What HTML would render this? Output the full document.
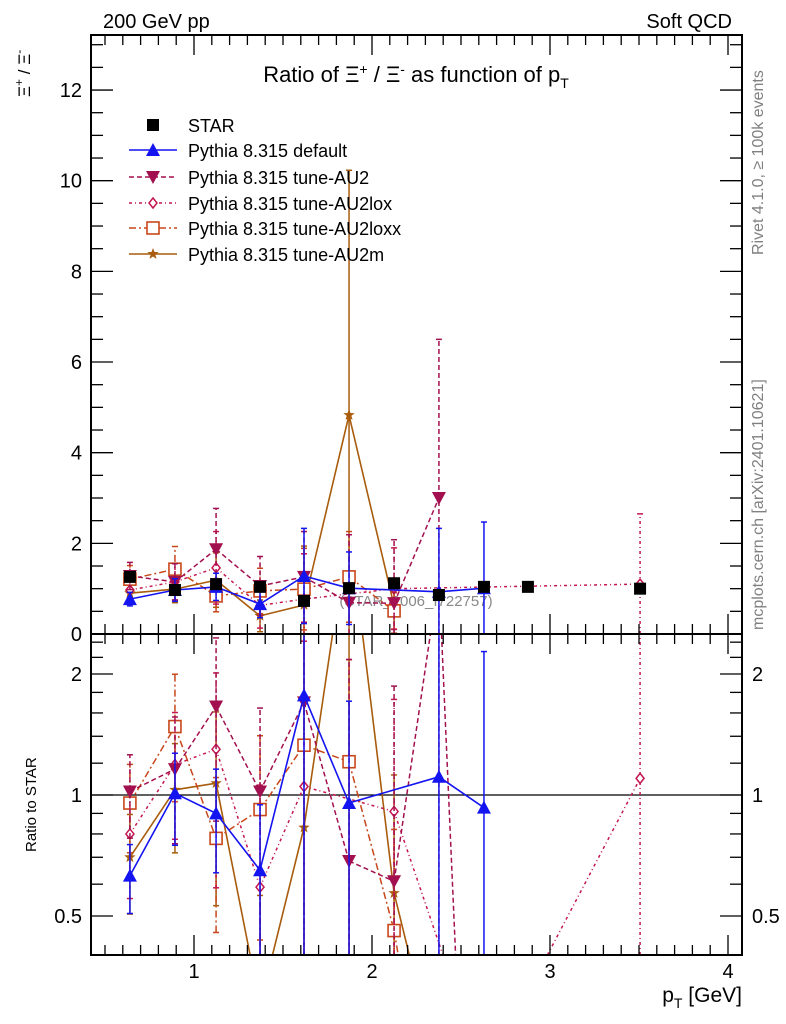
<!DOCTYPE html>
<html><head><meta charset="utf-8"><style>
html,body{margin:0;padding:0;background:#fff;overflow:hidden;width:786px;height:1024px;}
svg{display:block;font-family:"Liberation Sans",sans-serif;}
</style></head><body>
<svg id="c" width="786" height="1024" viewBox="0 0 786 1024" xmlns="http://www.w3.org/2000/svg">
<text x="103" y="28" font-size="20">200 GeV pp</text>
<text x="732" y="28" font-size="20" text-anchor="end">Soft QCD</text>
<text x="416" y="82" font-size="22" text-anchor="middle">Ratio of Ξ<tspan dy="-8" font-size="14">+</tspan><tspan dy="8"> / Ξ</tspan><tspan dy="-8" font-size="14">-</tspan><tspan dy="8"> as function of p</tspan><tspan dy="6" font-size="14">T</tspan></text>
<text transform="translate(30,97) rotate(-90)" font-size="17">Ξ<tspan dy="-7" font-size="12">+</tspan><tspan dy="7"> / Ξ</tspan><tspan dy="-7" font-size="12">-</tspan></text>
<text transform="translate(36,852) rotate(-90)" font-size="15">Ratio to STAR</text>
<text x="742" y="1002" font-size="21" text-anchor="end">p<tspan dy="6" font-size="14">T</tspan><tspan dy="-6"> [GeV]</tspan></text>
<text transform="translate(763,255) rotate(-90)" font-size="16" fill="#808080">Rivet 4.1.0, ≥ 100k events</text>
<text transform="translate(763,630) rotate(-90)" font-size="16" fill="#808080">mcplots.cern.ch [arXiv:2401.10621]</text>
<text x="416" y="606" font-size="15" fill="#888" text-anchor="middle">(STAR_2006_I722757)</text>
<g id="marks"></g>
<g id="axes"></g>
<g id="legend"></g>
</svg>
<script>
const xVals=[0.64,0.893,1.124,1.371,1.618,1.871,2.124,2.376,2.629,2.876,3.506];
const starVals=[1.26,0.97,1.10,1.04,0.73,1.01,1.12,0.86,1.04,1.04,1.00];
const starErr=[0.08,0.06,0.06,0.06,0.05,0.06,0.06,0.05,0.06,0.05,0.05];
const defVals=[0.77,0.97,1.04,0.66,1.28,1.01,null,0.93,1.01,null,null];
const defErr=[0.15,0.25,0.3,0.3,1.05,0.8,null,1.4,1.46,null,null];
const au2Vals=[1.28,1.15,1.87,1.06,1.26,0.69,0.68,3.0,null,null,null];
const au2Err=[0.3,0.4,0.9,0.65,1.0,1.5,1.4,3.5,null,null,null];
const loxVals=[0.97,1.15,1.46,0.63,0.77,null,1.0,null,null,null,1.1];
const loxErr=[0.3,0.4,0.8,0.5,1.0,null,0.9,null,null,null,1.55];
const loxxVals=[1.21,1.43,0.84,0.95,0.99,1.26,0.51,null,null,null,null];
const loxxErr=[0.3,0.5,0.35,0.5,0.9,1.0,0.4,null,null,null,null];
const au2mVals=[0.9,0.99,1.19,0.4,0.64,4.83,0.62,null,null,null,null];
const au2mErr=[0.25,0.3,0.6,0.35,1.3,5.4,0.6,null,null,null,null];
const defRatio=[0.63,1.01,0.90,0.65,1.77,0.955,null,1.11,0.93,null,null];
const au2Ratio=[1.02,1.16,1.66,1.02,1.70,0.685,0.61,3.5,0.01,null,null];
const loxRatio=[0.80,1.19,1.30,0.59,1.05,null,0.91,null,0.2,null,1.1];
const loxxRatio=[0.955,1.48,0.78,0.92,1.33,1.21,0.46,0.1,null,null,null];
const au2mRatio=[0.70,1.03,1.07,0.3,0.83,4.75,0.57,0.2,null,null,null];
const yTicksTop=[0,2,4,6,8,10,12];
const xTicks=[1,2,3,4];
const rTicks=[0.5,1,2];
const rMinor=[0.4,0.6,0.7,0.8,0.9,1.2,1.4,1.6,1.8,2.2,2.4];

const L=91,R=742,T=35,M=634,B=955;
const X=v=>194+(v-1)*178;
const Y=v=>634-v*45.33;
const RY=v=>795-Math.log2(v)*121;
const NS='http://www.w3.org/2000/svg';
function mk(tag,at,par){const e=document.createElementNS(NS,tag);for(const k in at)e.setAttribute(k,at[k]);par.appendChild(e);return e;}
const marks=document.getElementById('marks'),axes=document.getElementById('axes'),leg=document.getElementById('legend');

// clip a segment to the y band [y0,y1]; returns null if fully outside
function clipSeg(ax,ay,bx,by,y0,y1){
  let t0=0,t1=1;const dy=by-ay;
  if(dy===0){if(ay<y0||ay>y1)return null;}
  else{let ta=(y0-ay)/dy,tb=(y1-ay)/dy;if(ta>tb)[ta,tb]=[tb,ta];t0=Math.max(t0,ta);t1=Math.min(t1,tb);if(t0>t1)return null;}
  return [ax+(bx-ax)*t0,ay+dy*t0,ax+(bx-ax)*t1,ay+dy*t1];
}
function marker(type,x,y,col,g,s){
  let e;
  if(type==='sq')e=mk('rect',{x:x-6,y:y-6,width:12,height:12,fill:'#000'},g);
  else if(type==='tri')e=mk('polygon',{points:`${x},${y-7} ${x-7},${y+6} ${x+7},${y+6}`,fill:col},g);
  else if(type==='dtri')e=mk('polygon',{points:`${x},${y+7} ${x-7},${y-6} ${x+7},${y-6}`,fill:col},g);
  else if(type==='dia')e=mk('polygon',{points:`${x},${y-5} ${x-4},${y} ${x},${y+5} ${x+4},${y}`,fill:'#fff',stroke:col,'stroke-width':1.5},g);
  else if(type==='osq')e=mk('rect',{x:x-6,y:y-6,width:12,height:12,fill:'#fff',stroke:col,'stroke-width':1.6},g);
  else {let p=[];for(let i=0;i<10;i++){const r=i%2?2.5:6,a=-Math.PI/2+i*Math.PI/5;p.push((x+r*Math.cos(a)).toFixed(1)+','+(y+r*Math.sin(a)).toFixed(1));}e=mk('polygon',{points:p.join(' '),fill:col},g);}
  
  
}
function series(name,vals,errs,ratio,col,dash,type,w){
  const gt=mk('g',{},marks);
  const gb=mk('g',{},marks);
  const draw=(g,arr,fy,errf,y0,y1)=>{
    let prev=null,d='';
    arr.forEach((v,i)=>{if(v==null)return;const p=[X(xVals[i]),fy(v)];
      if(prev){const s=clipSeg(prev[0],prev[1],p[0],p[1],y0,y1);if(s)d+=`M${s[0].toFixed(1)},${s[1].toFixed(1)}L${s[2].toFixed(1)},${s[3].toFixed(1)}`;}
      prev=p;});
    if(type!=='sq'&&d){const pl=mk('path',{d,fill:'none',stroke:col,'stroke-width':w,'stroke-dasharray':dash},g);
      }
    arr.forEach((v,i)=>{if(v==null)return;const e=errf(i);const x=X(xVals[i]);
      if(e){const lo=Math.max(v-e[0],1e-4),hi=v+e[1];
        const ya=Math.min(Math.max(fy(lo),y0),y1),yb=Math.min(Math.max(fy(hi),y0),y1);
        if(ya!==yb){const el=mk('line',{x1:x,x2:x,y1:ya,y2:yb,stroke:col,'stroke-width':1.5,'stroke-dasharray':dash},g);
        }
        if(fy(hi)>y0&&fy(hi)<y1)mk('line',{x1:x-3,x2:x+3,y1:fy(hi),y2:fy(hi),stroke:col,'stroke-width':1.5},g);
        if(v-e[0]>0&&fy(lo)>y0&&fy(lo)<y1)mk('line',{x1:x-3,x2:x+3,y1:fy(lo),y2:fy(lo),stroke:col,'stroke-width':1.5},g);}
      const py=fy(v);if(py>=y0&&py<=y1)marker(type,x,py,col,g,name);});
  };
  draw(gt,vals,Y,i=>errs[i]!=null?[errs[i],errs[i]]:null,T,M);
  if(ratio)draw(gb,ratio,RY,i=>(errs[i]!=null&&vals[i])?[ratio[i]*errs[i]/vals[i],ratio[i]*errs[i]/vals[i]]:null,M,B);
}
const ref=mk('line',{x1:L,x2:R,y1:RY(1),y2:RY(1),stroke:'#000','stroke-width':1.3},marks);

series('au2m',au2mVals,au2mErr,au2mRatio,'#a85c0c','none','star',1.6);
series('au2loxx',loxxVals,loxxErr,loxxRatio,'#c8471a','7,3,2,3','osq',1.5);
series('au2lox',loxVals,loxErr,loxRatio,'#c4164e','3,3,1,3','dia',1.5);
series('au2',au2Vals,au2Err,au2Ratio,'#a3104f','5,3','dtri',1.5);
series('default',defVals,defErr,defRatio,'#1414f0','none','tri',1.6);
series('star',starVals,starErr,null,'#000','none','sq',1.5);

[[T,M],[M,B]].forEach(([a,b],k)=>{const r=mk('rect',{x:L,y:a,width:R-L,height:b-a,fill:'none',stroke:'#000','stroke-width':2},axes);
  });
function tick(x1,y1,x2,y2){mk('line',{x1,y1,x2,y2,stroke:'#000','stroke-width':1.3},axes);}
for(let v=0.5;v<=4.05;v+=0.1){const vv=Math.round(v*10)/10;const x=X(vv);if(x<L||x>R)continue;const maj=Math.abs(vv-Math.round(vv))<1e-6;const len=maj?20:10;
  tick(x,M,x,M-len);tick(x,T,x,T+len);tick(x,B,x,B-len);tick(x,M,x,M+len);}
xTicks.forEach(v=>{const t=mk('text',{x:X(v),y:978,'font-size':20,'text-anchor':'middle'},axes);t.textContent=v;
  });
for(let v=0;v<=13.2;v+=0.5){const y=Y(v);const maj=v%2===0;const len=maj?22:12;tick(L,y,L+len,y);tick(R,y,R-len,y);}
yTicksTop.forEach(v=>{const t=mk('text',{x:82,y:Y(v)+7,'font-size':20,'text-anchor':'end'},axes);t.textContent=v;
  });
rTicks.forEach(v=>{const y=RY(v);tick(L,y,L+22,y);tick(R,y,R-22,y);
  [[82,'end'],[752,'start']].forEach(([x,a])=>{const t=mk('text',{x,y:y+7,'font-size':20,'text-anchor':a},axes);t.textContent=v;
  });});
rMinor.forEach(v=>{const y=RY(v);if(y<M||y>B)return;tick(L,y,L+12,y);tick(R,y,R-12,y);});

const legItems=[['STAR','#000','none','sq'],['Pythia 8.315 default','#1414f0','none','tri'],['Pythia 8.315 tune-AU2','#a3104f','5,3','dtri'],
 ['Pythia 8.315 tune-AU2lox','#c4164e','3,3,1,3','dia'],['Pythia 8.315 tune-AU2loxx','#c8471a','7,3,2,3','osq'],['Pythia 8.315 tune-AU2m','#a85c0c','none','star']];
const legY=[125,150,177,203,228,254];
legItems.forEach((it,i)=>{const g=mk('g',{},leg);
  const y=legY[i];
  if(it[3]!=='sq')mk('line',{x1:129,x2:177,y1:y,y2:y,stroke:it[1],'stroke-width':1.5,'stroke-dasharray':it[2]},g);
  if(it[3]==='sq')mk('rect',{x:147,y:y-6,width:12,height:12,fill:'#000'},g);else marker(it[3],153,y,it[1],g,'legend');
  const t=mk('text',{x:188,y:y+7,'font-size':18},g);t.textContent=it[0];});
</script>
</body></html>
